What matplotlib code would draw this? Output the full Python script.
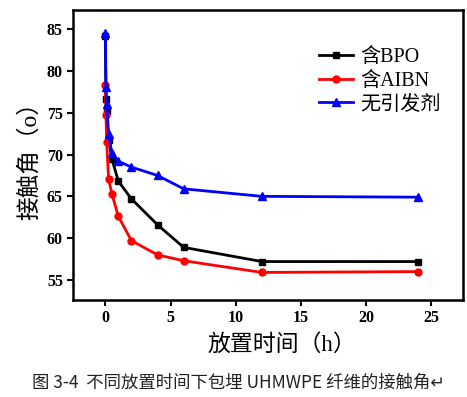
import matplotlib
matplotlib.use("Agg")
import matplotlib.pyplot as plt

# placement time (h) and contact angle (deg)
hours = [0, 0.05, 0.1, 0.25, 0.5, 1, 2, 4, 6, 12, 24]
bpo = [84.2, 76.7, 75.2, 71.8, 69.5, 66.8, 64.7, 61.6, 58.9, 57.2, 57.2]
aibn = [78.3, 74.7, 71.5, 67.1, 65.3, 62.6, 59.7, 58.0, 57.3, 55.9, 56.0]
no_init = [84.5, 78.1, 76.0, 72.5, 70.2, 69.2, 68.5, 67.5, 65.9, 65.0, 64.9]

labels = ["含BPO", "含AIBN", "无引发剂"]
xticks = [0, 5, 10, 15, 20, 25]
yticks = [55, 60, 65, 70, 75, 80, 85]

serif_cjk = ["Liberation Serif", "Noto Sans CJK SC"]

fig = plt.figure(figsize=(4.67, 3.97), dpi=100)
ax = fig.add_axes([0.1557, 0.2443, 0.8353, 0.7307])

ax.plot(hours, bpo, color="black", marker="s", markersize=5, linewidth=2, label=labels[0])
ax.plot(hours, aibn, color="red", marker="o", markersize=5, linewidth=2, label=labels[1])
ax.plot(hours, no_init, color="blue", marker="^", markersize=6, linewidth=2, label=labels[2])

ax.set_xlim(-2.5, 27.4)
ax.set_ylim(52.6, 87.3)
ax.set_xticks(xticks)
ax.set_yticks(yticks)
ax.tick_params(direction="out", length=4, width=1.5, labelsize=11.5, pad=3)
for lab in ax.get_xticklabels() + ax.get_yticklabels():
    lab.set_fontfamily("Liberation Serif")
    lab.set_fontweight("bold")
for sp in ax.spines.values():
    sp.set_linewidth(1.8)

ax.set_xlabel("放置时间（h）", family=serif_cjk, fontsize=16.5)
ax.xaxis.set_label_coords(0.535, -0.115)
ax.set_ylabel("接触角（o）", family=serif_cjk, fontsize=17, labelpad=4)

leg = ax.legend(loc="upper right", bbox_to_anchor=(0.99, 0.93), frameon=False,
                prop={"family": serif_cjk, "size": 14.5},
                handlelength=1.7, labelspacing=0.22, handletextpad=0.35)

fig.text(0.51, 0.035, "图 3-4  不同放置时间下包埋 UHMWPE 纤维的接触角↵",
         ha="center", va="center", fontsize=12.5, color="#222222",
         family=["Noto Sans CJK SC", "DejaVu Sans"])

fig.savefig("out.png", dpi=100)
